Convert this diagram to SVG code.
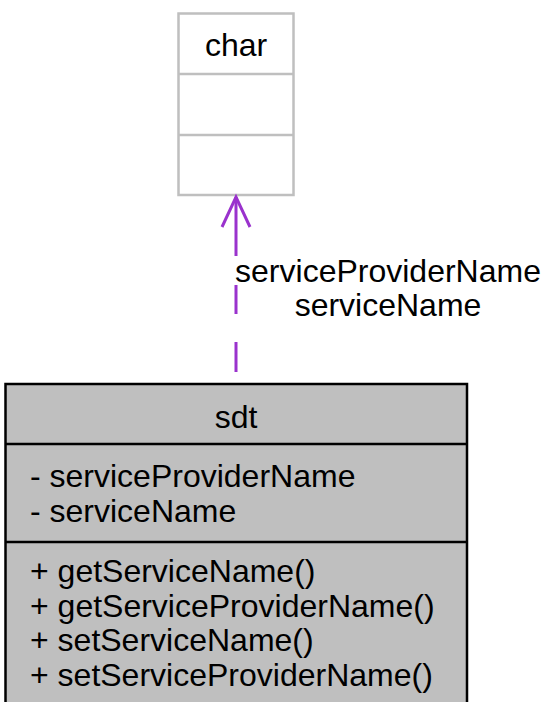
<svg xmlns="http://www.w3.org/2000/svg" width="548" height="702" viewBox="0 0 548 702">
<style>
text{font-family:"Liberation Sans",Arial,sans-serif;font-size:32px;fill:#000}
.c{text-anchor:middle}
.edge{stroke:#9a32cd;stroke-width:3;fill:none}
</style>
<rect width="548" height="702" fill="#fff"/>
<g id="char">
<rect x="178.5" y="13.5" width="115" height="181.5" fill="#fff" stroke="#bfbfbf" stroke-width="2.5"/>
<line x1="178.5" y1="74" x2="293.5" y2="74" stroke="#bfbfbf" stroke-width="2.5"/>
<line x1="178.5" y1="135" x2="293.5" y2="135" stroke="#bfbfbf" stroke-width="2.5"/>
<text class="c" x="236" y="56">char</text>
</g>
<g id="sdt">
<rect x="5.5" y="384" width="461.5" height="330" fill="#bfbfbf" stroke="#000" stroke-width="2.5"/>
<line x1="5.5" y1="444" x2="467" y2="444" stroke="#000" stroke-width="2.5"/>
<line x1="5.5" y1="542" x2="467" y2="542" stroke="#000" stroke-width="2.5"/>
<text class="c" x="236" y="428">sdt</text>
<text x="30" y="487">- serviceProviderName</text>
<text x="30" y="522">- serviceName</text>
<text x="30" y="582">+ getServiceName()</text>
<text x="30" y="617">+ getServiceProviderName()</text>
<text x="30" y="651">+ setServiceName()</text>
<text x="30" y="686">+ setServiceProviderName()</text>
</g>
<g id="connectors">
<path class="edge" d="M236,383 L236,197" stroke-dasharray="0 11 30 28 29 29 60"/>
<polyline class="edge" points="222,227 236,197 250,227"/>
<text class="c" x="388" y="282">serviceProviderName</text>
<text class="c" x="388" y="316">serviceName</text>
</g>
</svg>
